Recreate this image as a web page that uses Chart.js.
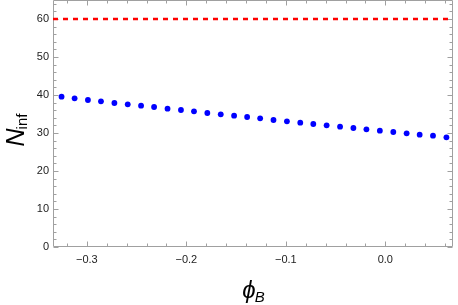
<!DOCTYPE html>
<html>
<head>
<meta charset="utf-8">
<script src="https://cdn.jsdelivr.net/npm/chart.js@4/dist/chart.umd.min.js"></script>
<style>
html,body{margin:0;padding:0;background:#fff;}
#wrap{width:458px;height:305px;}
</style>
</head>
<body>
<div id="wrap"><canvas id="c" width="458" height="305"></canvas></div>
<script>
// ---- data ----
const phiB = [-0.3254,-0.3123,-0.2989,-0.2858,-0.2723,-0.2589,-0.2455,-0.2324,-0.2189,-0.2054,
              -0.1923,-0.1789,-0.1654,-0.1520,-0.1389,-0.1258,-0.1124,-0.0989,-0.0855,-0.0724,
              -0.0590,-0.0455,-0.0321,-0.0190,-0.0055,0.0080,0.0214,0.0345,0.0479,0.0614];
const Ninf = [39.55,39.13,38.68,38.34,37.89,37.55,37.18,36.84,36.39,36.05,
              35.71,35.26,34.92,34.55,34.21,33.87,33.42,33.08,32.71,32.37,
              32.03,31.66,31.32,30.97,30.61,30.26,29.92,29.55,29.29,28.87];
const refLevel = 60;
const xRange = [-0.334, 0.068];
const yRange = [0, 65];
const xTicks = [-0.3, -0.2, -0.1, 0.0];
const xMinorTicks = [-0.32,-0.28,-0.26,-0.24,-0.22,-0.18,-0.16,-0.14,-0.12,-0.08,-0.06,-0.04,-0.02,0.02,0.04,0.06];
const yTicks = [0, 10, 20, 30, 40, 50, 60];
const yMinorTicks = [2,4,6,8,12,14,16,18,22,24,26,28,32,34,36,38,42,44,46,48,52,54,56,58,62,64];
const xTitle = {main: "\u03D5", sub: "B"};
const yTitle = {main: "N", sub: "inf"};

const FRAME = '#a0a0a0';
const FONT = '"Liberation Sans", Arial, sans-serif';

const framePlugin = {
  id: 'frame',
  beforeDatasetsDraw(chart) {
    const {ctx, chartArea: a, scales} = chart;
    const xs = scales.x, ys = scales.y;
    ctx.save();
    ctx.strokeStyle = FRAME;
    ctx.lineWidth = 1;
    const L = Math.round(a.left)+0.5, R = Math.round(a.right)-0.5, T = Math.round(a.top)+0.5, B = Math.round(a.bottom)-0.5;
    ctx.beginPath();
    ctx.rect(L, T, R - L, B - T);
    ctx.stroke();
    ctx.beginPath();
    const xt = (v, len) => {
      const p = Math.round(xs.getPixelForValue(v)) + 0.5;
      ctx.moveTo(p, B); ctx.lineTo(p, B - len);
      ctx.moveTo(p, T); ctx.lineTo(p, T + len);
    };
    const yt = (v, len) => {
      const p = Math.round(ys.getPixelForValue(v)) + 0.5;
      ctx.moveTo(L, p); ctx.lineTo(L + len, p);
      ctx.moveTo(R, p); ctx.lineTo(R - len, p);
    };
    xTicks.forEach(v => xt(v, 5));
    xMinorTicks.forEach(v => xt(v, 3));
    yTicks.forEach(v => yt(v, 5));
    yMinorTicks.forEach(v => yt(v, 3));
    ctx.stroke();
    ctx.restore();
  },
  afterDraw(chart) {
    const {ctx, chartArea: a} = chart;
    ctx.save();
    ctx.fillStyle = '#000';
    ctx.textBaseline = 'alphabetic';
    // x title
    ctx.font = 'italic 24px ' + FONT;
    const w1 = ctx.measureText(xTitle.main).width;
    ctx.font = 'italic 15px ' + FONT;
    const w2 = ctx.measureText(xTitle.sub).width;
    let x0 = (a.left + a.right) / 2 - (w1 + w2) / 2 + 1;
    ctx.font = 'italic 24px ' + FONT;
    ctx.fillText(xTitle.main, x0, 298);
    ctx.font = 'italic 15px ' + FONT;
    ctx.fillText(xTitle.sub, x0 + w1 - 1, 302);
    // y title
    ctx.translate(24, (a.top + a.bottom) / 2 + 6);
    ctx.rotate(-Math.PI / 2);
    ctx.font = 'italic 25px ' + FONT;
    const v1 = ctx.measureText(yTitle.main).width;
    ctx.font = '15px ' + FONT;
    const v2 = ctx.measureText(yTitle.sub).width;
    const s = -(v1 + v2) / 2;
    ctx.font = 'italic 25px ' + FONT;
    ctx.fillText(yTitle.main, s, 0);
    ctx.font = '15px ' + FONT;
    ctx.fillText(yTitle.sub, s + v1 - 1, 3);
    ctx.restore();
  }
};

const fmt = v => {
  const s = Number(v).toFixed(1);
  return s.replace('-', '\u2212');
};

new Chart(document.getElementById('c'), {
  type: 'scatter',
  data: {
    datasets: [
      {
        data: phiB.map((x, i) => ({x, y: Ninf[i]})),
        backgroundColor: '#0000ff',
        borderColor: '#0000ff',
        pointRadius: 2.9,
        pointBorderWidth: 0,
        showLine: false
      },
      {
        data: xRange.map(x => ({x, y: refLevel})),
        showLine: true,
        borderColor: '#ff0000',
        borderWidth: 2.5,
        borderDash: [5, 5],
        pointRadius: 0,
        fill: false
      }
    ]
  },
  options: {
    responsive: false,
    animation: false,
    devicePixelRatio: 1,
    layout: {autoPadding: false, padding: {left: 0, right: 5, top: 0, bottom: 0}},
    plugins: {legend: {display: false}, tooltip: {enabled: false}},
    scales: {
      x: {
        type: 'linear',
        min: xRange[0], max: xRange[1],
        afterBuildTicks: sc => { sc.ticks = xTicks.map(v => ({value: v})); },
        afterFit: sc => { sc.height = 58; sc.paddingLeft = 0; sc.paddingRight = 0; },
        grid: {display: false, drawTicks: false},
        border: {display: false},
        ticks: {
          padding: 6,
          maxRotation: 0,
          color: '#222',
          font: {family: FONT, size: 11},
          callback: v => fmt(v)
        }
      },
      y: {
        type: 'linear',
        min: yRange[0], max: yRange[1],
        afterBuildTicks: sc => { sc.ticks = yTicks.map(v => ({value: v})); },
        afterFit: sc => { sc.width = 53; sc.paddingTop = 0; sc.paddingBottom = 0; },
        grid: {display: false, drawTicks: false},
        border: {display: false},
        ticks: {
          padding: 4,
          color: '#222',
          font: {family: FONT, size: 11},
          callback: v => String(v)
        }
      }
    }
  },
  plugins: [framePlugin]
});
</script>
</body>
</html>
